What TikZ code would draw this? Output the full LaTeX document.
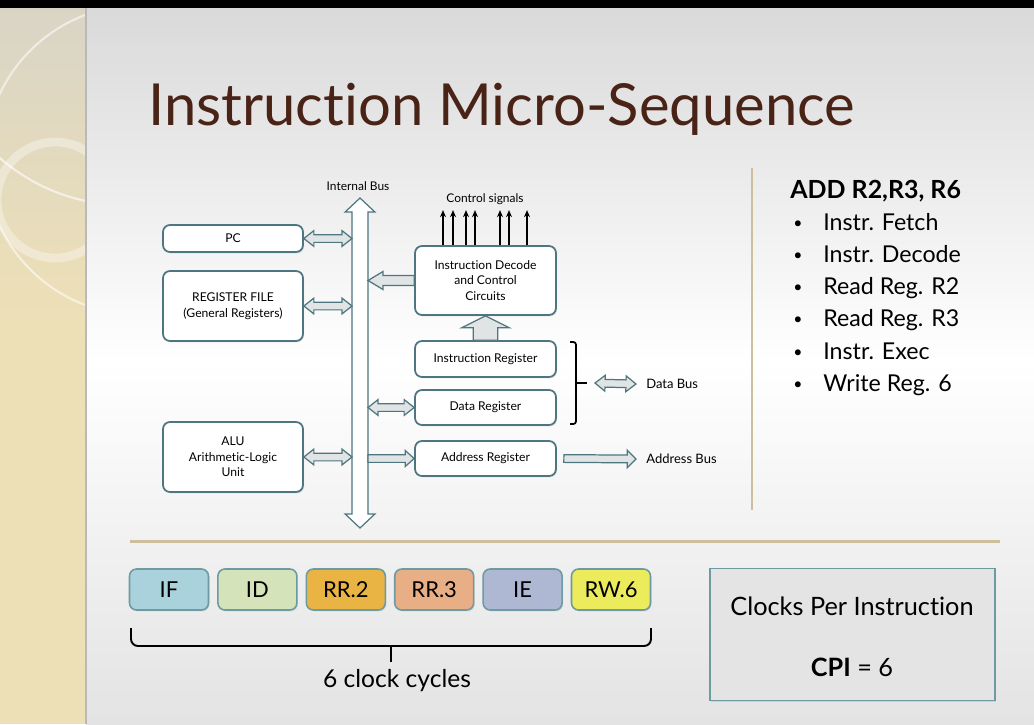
\documentclass[tikz,border=0pt]{standalone}
\usepackage{fontspec}
\setmainfont{Lato}[Ligatures=NoCommon]
\usepackage{tikz}
\usetikzlibrary{calc,shadows,arrows.meta}

\definecolor{titlebrown}{HTML}{4A2317}
\definecolor{edgeteal}{HTML}{4E7680}
\definecolor{busfill}{HTML}{E0E4E4}
\definecolor{ruletan}{HTML}{CDBF9C}
\definecolor{bandbeige}{HTML}{EEE0B6}
\definecolor{bandgray}{HTML}{D9D4C6}
\definecolor{ifblue}{HTML}{A9D2DC}
\definecolor{idgreen}{HTML}{D4E3B9}
\definecolor{rrgold}{HTML}{E9B443}
\definecolor{rrsalmon}{HTML}{E8AF87}
\definecolor{ielav}{HTML}{AFB8D2}
\definecolor{rwyellow}{HTML}{EBEB5C}
\definecolor{stageedge}{HTML}{6E9AA2}
\definecolor{cpigray}{HTML}{E4E4E4}

\tikzset{
  arrow len/.store in=\fatL, arrow head/.store in=\fatH, arrow shaft/.store in=\fatS,
  arrow len=5.7pt, arrow head=4.5pt, arrow shaft=2.2pt,
  fat/.style={draw=edgeteal, fill=busfill, line width=0.7pt, line join=miter},
  fat both/.style={fat, to path={(\tikztostart)
      -- ($(\tikztostart)!\fatL!(\tikztotarget)!\fatH!90:(\tikztotarget)$)
      -- ($(\tikztostart)!\fatL!(\tikztotarget)!\fatS!90:(\tikztotarget)$)
      -- ($(\tikztotarget)!\fatL!(\tikztostart)!\fatS!-90:(\tikztostart)$)
      -- ($(\tikztotarget)!\fatL!(\tikztostart)!\fatH!-90:(\tikztostart)$)
      -- (\tikztotarget)
      -- ($(\tikztotarget)!\fatL!(\tikztostart)!\fatH!90:(\tikztostart)$)
      -- ($(\tikztotarget)!\fatL!(\tikztostart)!\fatS!90:(\tikztostart)$)
      -- ($(\tikztostart)!\fatL!(\tikztotarget)!\fatS!-90:(\tikztotarget)$)
      -- ($(\tikztostart)!\fatL!(\tikztotarget)!\fatH!-90:(\tikztotarget)$)
      -- cycle}},
  fat one/.style={fat, to path={($(\tikztostart)!\fatS!90:(\tikztotarget)$)
      -- ($(\tikztotarget)!\fatL!(\tikztostart)!\fatS!-90:(\tikztostart)$)
      -- ($(\tikztotarget)!\fatL!(\tikztostart)!\fatH!-90:(\tikztostart)$)
      -- (\tikztotarget)
      -- ($(\tikztotarget)!\fatL!(\tikztostart)!\fatH!90:(\tikztostart)$)
      -- ($(\tikztotarget)!\fatL!(\tikztostart)!\fatS!90:(\tikztostart)$)
      -- ($(\tikztostart)!\fatS!-90:(\tikztotarget)$)
      -- cycle}},
  unit/.style={draw=edgeteal, line width=1pt, fill=white, rounded corners=4pt,
    align=center, inner sep=1pt, font=\fontsize{6.9}{8.8}\selectfont,
    drop shadow={opacity=0.2, shadow xshift=0.6pt, shadow yshift=-0.8pt}},
  small/.style={inner sep=0pt, font=\fontsize{6.8}{8}\selectfont},
  buslabel/.style={inner sep=0pt, anchor=west, font=\fontsize{7.4}{9}\selectfont},
  stage/.style={draw=stageedge, line width=0.9pt, rounded corners=4pt,
    minimum width=1.58cm, minimum height=0.82cm, inner sep=0pt,
    font=\fontsize{12.5}{14}\selectfont,
    drop shadow={opacity=0.2, shadow xshift=0.6pt, shadow yshift=-0.8pt}},
  listtext/.style={inner sep=0pt, anchor=base west, font=\fontsize{13.2}{15}\selectfont},
  ctrl/.style={-{Stealth[length=4pt,width=3.4pt]}, line width=0.9pt},
}

\begin{document}
\begin{tikzpicture}[x=0.02cm,y=-0.02cm]
\useasboundingbox (0,0) rectangle (1034,724);
% slide and side band
\shade[top color=gray!30, bottom color=gray!22, middle color=white] (86,0) rectangle (1034,724);
\fill[bandbeige] (0,0) rectangle (86,724);
\shade[top color=bandgray, bottom color=bandbeige] (0,0) rectangle (86,330);
\begin{scope}
\clip (0,0) rectangle (86,724);
\draw[white, opacity=0.55, line width=1.2pt] (140,160) circle[radius=155];
\draw[white, opacity=0.35, line width=5pt] (55,200) circle[radius=58];
\draw[white, opacity=0.6, line width=1.2pt] (125,15) circle[radius=190];
\end{scope}
\draw[gray!55, line width=0.8pt] (86,8) -- (86,724);
\fill[black] (0,0) rectangle (1034,8);

\node[anchor=base west, inner sep=0pt, text=titlebrown, font=\fontsize{33}{36}\selectfont]
  (title) at (148,125) {Instruction Micro-Sequence};

% units
\node[unit, minimum width=2.8cm, minimum height=0.54cm] (pc) at (233,238.5) {PC};
\node[unit, minimum width=2.8cm, minimum height=1.4cm] (rf) at (233,306) {REGISTER FILE\\(General Registers)};
\node[unit, minimum width=2.8cm, minimum height=1.4cm] (alu) at (233,457) {ALU\\Arithmetic-Logic\\Unit};
\node[unit, minimum width=2.82cm, minimum height=1.38cm] (idc) at (485.5,280.5) {Instruction Decode\\and Control\\Circuits};
\node[unit, minimum width=2.82cm, minimum height=0.72cm] (ir) at (485.5,359) {Instruction Register};
\node[unit, minimum width=2.82cm, minimum height=0.7cm] (dr) at (485.5,407.5) {Data Register};
\node[unit, minimum width=2.82cm, minimum height=0.7cm] (ar) at (485.5,458.5) {Address Register};

% internal bus
\coordinate (bustop) at (360,198);
\coordinate (busbot) at (360,528);
\coordinate (busL) at (352,0);
\coordinate (busR) at (368,0);
\node[small] (ibus) at (358,186) {Internal Bus};
\draw[fat both, fill=white, arrow len=8pt, arrow head=8.5pt, arrow shaft=4.5pt] (bustop) to (busbot);

\draw[fat both] (pc.east) to (pc.east -| busL);
\draw[fat both] (rf.east) to (rf.east -| busL);
\draw[fat both] (alu.east) to (alu.east -| busL);
\draw[fat one, arrow len=8.5pt, arrow head=5.1pt, arrow shaft=2.8pt] (idc.west) to (idc.west -| busR);
\draw[fat both] (dr.west -| busR) to (dr.west);
\draw[fat one, arrow len=5pt] (ar.west -| busR) to (ar.west);
\draw[fat one, arrow len=6.8pt, arrow head=13.6pt, arrow shaft=7pt] (ir.north) to (idc.south);

% control signals
\node[small] (csig) at (485,199) {Control signals};
\foreach \x in {443,453,466,475,500,509,527}{
  \coordinate (s) at (\x,0);
  \draw[ctrl] (idc.north -| s) -- ++(0,-35);
}

% data / address bus
\coordinate (brtop) at (570,342);
\coordinate (brbot) at (570,424);
\coordinate (brtip) at (587,383);
\draw[line width=1pt, rounded corners=1.5pt] (brtop) -- (576,342) -- (576,424) -- (brbot);
\draw[line width=1pt] (576,383) -- (brtip);
\node[buslabel] (dbus) at (646,384) {Data Bus};
\node[buslabel] (abus) at (646,459) {Address Bus};
\draw[fat both] ($(brtip)+(8,0)$) to ($(dbus.west)+(-10,0)$);
\draw[fat one, arrow len=5pt, arrow head=5pt] ($(ar.east)+(7,0)$) to ($(abus.west)+(-10,0)$);

% instruction steps
\draw[ruletan, line width=1.4pt] (752,168) -- (752,510);
\node[anchor=base west, inner sep=0pt, font=\fontsize{14.2}{16}\selectfont\bfseries] (add) at (790,198) {ADD R2,R3, R6};
\foreach \t [count=\i] in {Instr. Fetch, Instr. Decode, Read Reg. R2, Read Reg. R3, Instr. Exec, Write Reg. 6}{
  \node[listtext, font=\fontsize{9}{10}\selectfont] (bul\i) at (793,{196+32.2*\i}) {\textbullet};
  \node[listtext] (item\i) at (823,{198+32.2*\i}) {\t};
}

\draw[ruletan, line width=1.7pt] (130,541) -- (1000,541);

% pipeline stages
\foreach \lab/\col [count=\i] in {IF/ifblue, ID/idgreen, RR.2/rrgold, RR.3/rrsalmon, IE/ielav, RW.6/rwyellow}{
  \node[stage, fill=\col] (st\i) at ({169+88.4*(\i-1)},589.5) {\lab};
}
\coordinate (bl) at (131,628);
\coordinate (br) at (651,628);
\coordinate (bm) at (391,646);
\draw[line width=1.1pt, rounded corners=4pt] (bl) |- (bm) -| (br);
\draw[line width=1.1pt] (bm) -- (391,662);
\node[inner sep=0pt, font=\fontsize{14}{16}\selectfont] (cyc) at (397,681) {6 clock cycles};

% CPI box
\node[draw=stageedge, line width=0.9pt, fill=cpigray, minimum width=5.7cm, minimum height=2.64cm,
  drop shadow={opacity=0.2, shadow xshift=0.6pt, shadow yshift=-0.8pt}] (cpi) at (852.5,634.5) {};
\node[inner sep=0pt, font=\fontsize{14.4}{16}\selectfont] (cpit) at (852,606) {Clocks Per Instruction};
\node[inner sep=0pt, font=\fontsize{14.4}{16}\selectfont] (cpiv) at (852,667) {\textbf{CPI} = 6};
\end{tikzpicture}
\end{document}
